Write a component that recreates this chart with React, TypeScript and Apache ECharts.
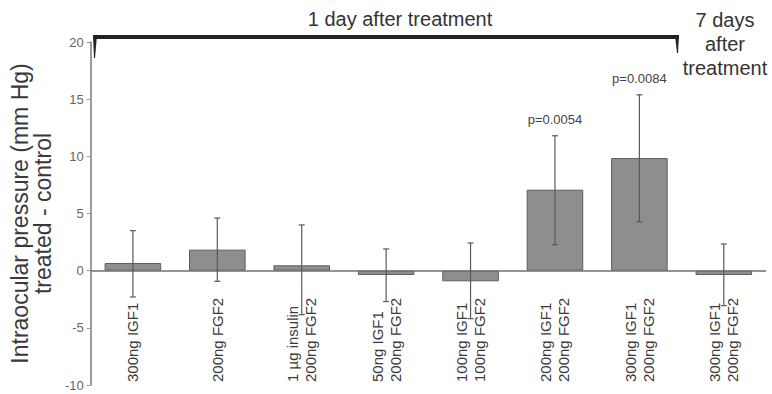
import React, { useEffect, useRef } from "react";
import * as echarts from "echarts";

const categories = [
  "300ng IGF1",
  "200ng FGF2",
  "1 µg insulin\n200ng FGF2",
  "50ng IGF1\n200ng FGF2",
  "100ng IGF1\n100ng FGF2",
  "200ng IGF1\n200ng FGF2",
  "300ng IGF1\n200ng FGF2",
  "300ng IGF1\n200ng FGF2",
];
const means = [0.67, 1.84, 0.47, -0.38, -0.93, 7.08, 9.85, -0.38];
const errLow = [-2.3, -0.93, -3.85, -2.7, -4.2, 2.27, 4.28, -3.06];
const errHigh = [3.5, 4.6, 4.0, 1.9, 2.42, 11.8, 15.38, 2.33];
const pValues = ["", "", "", "", "", "p=0.0054", "p=0.0084", ""];
const yMin = -10;
const yMax = 20;
const yInterval = 5;
const yTitle = "Intraocular pressure (mm Hg)\ntreated - control";
const topLabel1 = "1 day after treatment";
const topLabel2 = "7 days\nafter\ntreatment";

const FONT = "'Liberation Sans', Arial, Helvetica, sans-serif";

export default function App() {
  const ref = useRef<HTMLDivElement>(null);
  useEffect(() => {
    if (!ref.current) return;
    const chart = echarts.init(ref.current, undefined, { renderer: "svg" });
    const errData = categories.map((_, i) => [i, errLow[i], errHigh[i]]);
    chart.setOption({
      animation: false,
      backgroundColor: "#ffffff",
      grid: { left: 86, right: 6, top: 42, bottom: 9 },
      xAxis: {
        type: "category",
        data: categories,
        axisLine: { show: false, onZero: false },
        axisTick: { show: false },
        axisLabel: {
          inside: true,
          rotate: 90,
          interval: 0,
          margin: 3,
          fontSize: 15,
          lineHeight: 18,
          color: "#3a3a3a",
          fontFamily: FONT,
        },
        splitLine: { show: false },
      },
      yAxis: {
        type: "value",
        min: yMin,
        max: yMax,
        interval: yInterval,
        name: yTitle,
        nameLocation: "middle",
        nameGap: 27,
        nameTextStyle: {
          fontSize: 23,
          lineHeight: 23,
          color: "#3a3a3a",
          fontFamily: FONT,
        },
        axisLine: { show: true, lineStyle: { color: "#7a7a7a", width: 1.5 } },
        axisTick: { show: true, length: 4, lineStyle: { color: "#9a9a9a" } },
        axisLabel: { fontSize: 13, color: "#666", margin: 7, fontFamily: FONT },
        splitLine: { show: false },
      },
      series: [
        {
          type: "bar",
          data: means,
          barWidth: "67%",
          itemStyle: { color: "#8e8e8e", borderColor: "#5e5e5e", borderWidth: 1 },
          markLine: {
            silent: true,
            symbol: ["none", "none"],
            label: { show: false },
            lineStyle: { color: "#707070", width: 1.5, type: "solid" },
            data: [{ yAxis: 0 }],
          },
        },
        {
          type: "custom",
          data: errData,
          encode: { x: 0, y: [1, 2] },
          z: 5,
          renderItem: (params: any, api: any) => {
            const i = api.value(0);
            const lo = api.coord([i, api.value(1)]);
            const hi = api.coord([i, api.value(2)]);
            const x = hi[0];
            const cap = 3;
            const ls = { stroke: "#5a5a5a", lineWidth: 1.2 };
            const children: any[] = [
              { type: "line", shape: { x1: x, y1: hi[1], x2: x, y2: lo[1] }, style: ls },
              { type: "line", shape: { x1: x - cap, y1: hi[1], x2: x + cap, y2: hi[1] }, style: ls },
              { type: "line", shape: { x1: x - cap, y1: lo[1], x2: x + cap, y2: lo[1] }, style: ls },
            ];
            const p = pValues[params.dataIndex];
            if (p) {
              children.push({
                type: "text",
                style: {
                  text: p,
                  x: x,
                  y: hi[1] - 10,
                  align: "center",
                  verticalAlign: "bottom",
                  textAlign: "center",
                  textVerticalAlign: "bottom",
                  fontSize: 13,
                  fontFamily: FONT,
                  fill: "#444",
                },
              });
            }
            return { type: "group", children };
          },
        },
      ],
      graphic: [
        { type: "rect", shape: { x: 93, y: 35, width: 586, height: 4 }, style: { fill: "#222" } },
        { type: "polygon", shape: { points: [[93, 35], [97, 35], [95, 58], [94, 58]] }, style: { fill: "#222" } },
        { type: "polygon", shape: { points: [[675, 35], [679, 35], [678, 53], [677, 53]] }, style: { fill: "#222" } },
        {
          type: "text",
          x: 400,
          y: 19,
          style: {
            text: topLabel1,
            align: "center",
            verticalAlign: "middle",
            textAlign: "center",
            textVerticalAlign: "middle",
            fontSize: 20,
            fontFamily: FONT,
            fill: "#333",
          },
        },
        {
          type: "text",
          x: 725,
          y: 44,
          style: {
            text: topLabel2,
            align: "center",
            verticalAlign: "middle",
            textAlign: "center",
            textVerticalAlign: "middle",
            fontSize: 20,
            lineHeight: 24,
            fontFamily: FONT,
            fill: "#333",
          },
        },
      ],
    });
    return () => chart.dispose();
  }, []);
  return <div ref={ref} style={{ width: 772, height: 394, position: "absolute", left: 0, top: 0 }} />;
}
